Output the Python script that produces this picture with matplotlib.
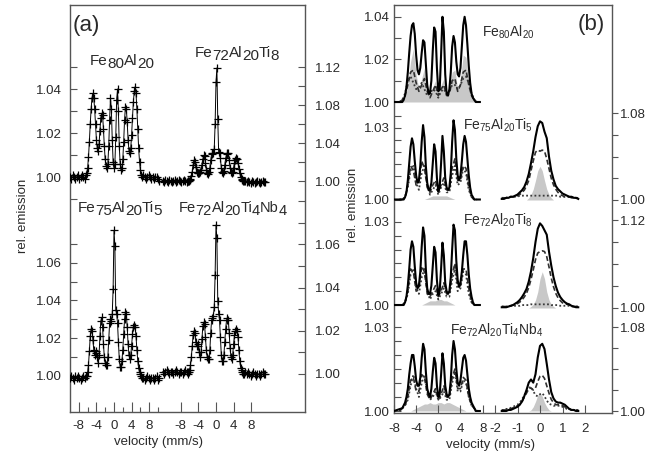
import matplotlib
matplotlib.use("Agg")
import matplotlib.pyplot as plt

# ---------------- data: panel (a), measured spectra (velocity mm/s, rel. emission)
va_core = [-6.2, -6.0, -5.8, -5.6, -5.4, -5.2, -5.0, -4.8, -4.6, -4.4,
           -4.2, -4.0, -3.8, -3.6, -3.4, -3.2, -3.0, -2.8, -2.6, -2.4,
           -2.2, -2.0, -1.8, -1.6, -1.4, -1.2, -1.0, -0.8, -0.6, -0.4,
           -0.2, 0.0, 0.2, 0.4, 0.6, 0.8, 1.0, 1.2, 1.4, 1.6,
           1.8, 2.0, 2.2, 2.4, 2.6, 2.8, 3.0, 3.2, 3.4, 3.6,
           3.8, 4.0, 4.2, 4.4, 4.6, 4.8, 5.0, 5.2, 5.4, 5.6,
           5.8, 6.0, 6.2, 6.4]
va_left_l = [-10.0, -9.7, -9.4, -9.1, -8.8, -8.5, -8.2, -7.9, -7.6, -7.3, -7.0, -6.7, -6.4]
va_left_r = [6.7, 7.0, 7.3, 7.6, 7.9, 8.2, 8.5, 8.8, 9.1, 9.4, 9.7, 10.0, 10.3]
va_right_l = [-12.1, -11.8, -11.5, -11.2, -10.9, -10.6, -10.3, -10.0, -9.7, -9.4, -9.1,
              -8.8, -8.5, -8.2, -7.9, -7.6, -7.3, -7.0, -6.7, -6.4, -6.3]
va_right_r = [6.7, 7.0, 7.3, 7.6, 7.9, 8.2, 8.5, 8.8, 9.1, 9.4, 9.7, 10.0, 10.3, 10.6, 10.9, 11.2]

fe80_meas = [1.002, 1.004, 1.009, 1.016, 1.024, 1.031, 1.036, 1.038, 1.036, 1.031,
             1.024, 1.017, 1.013, 1.012, 1.015, 1.021, 1.027, 1.029, 1.028, 1.022,
             1.014, 1.008, 1.005, 1.004, 1.006, 1.014, 1.026, 1.036, 1.031, 1.017,
             1.007, 1.004, 1.006, 1.018, 1.035, 1.040, 1.030, 1.014, 1.006, 1.003,
             1.004, 1.008, 1.016, 1.026, 1.032, 1.031, 1.025, 1.017, 1.012, 1.011,
             1.013, 1.019, 1.027, 1.034, 1.039, 1.041, 1.038, 1.031, 1.022, 1.013,
             1.007, 1.003, 1.001, 1.000]
fe80_base_l = [1.000, 0.999, 1.001, 1.000, 0.999, 1.000, 1.001, 0.999, 1.000, 1.001, 1.000, 0.999, 1.001]
fe80_base_r = [1.001, 1.000, 0.999, 1.000, 1.001, 1.000, 0.999, 1.000, 0.999, 1.000, 1.000, 0.999, 0.998]

ti8_meas = [1.000, 1.001, 1.002, 1.005, 1.010, 1.017, 1.022, 1.020, 1.015, 1.010,
            1.008, 1.008, 1.008, 1.009, 1.012, 1.017, 1.023, 1.027, 1.026, 1.019,
            1.012, 1.008, 1.007, 1.009, 1.014, 1.022, 1.028, 1.029, 1.030, 1.034,
            1.060, 1.104, 1.119, 1.065, 1.031, 1.029, 1.024, 1.014, 1.009, 1.008,
            1.011, 1.017, 1.024, 1.028, 1.030, 1.029, 1.022, 1.014, 1.009, 1.008,
            1.010, 1.014, 1.019, 1.022, 1.024, 1.023, 1.019, 1.013, 1.008, 1.004,
            1.002, 1.001, 1.000, 1.000]
ti8_base_l = [1.000, 0.999, 1.001, 1.000, 0.999, 1.001, 1.000, 0.999, 1.000, 1.001, 0.999,
              1.000, 1.001, 1.000, 0.999, 1.000, 1.001, 1.000, 0.999, 1.000, 1.000]
ti8_base_r = [1.000, 0.999, 1.000, 0.999, 0.998, 1.000, 0.999, 0.998, 0.999, 1.000, 0.999,
              0.998, 0.999, 1.000, 0.999, 0.999]

ti5_meas = [1.000, 1.002, 1.006, 1.013, 1.021, 1.025, 1.024, 1.019, 1.014, 1.011,
            1.012, 1.013, 1.010, 1.007, 1.011, 1.021, 1.029, 1.031, 1.026, 1.017,
            1.010, 1.007, 1.006, 1.006, 1.010, 1.019, 1.028, 1.030, 1.029, 1.033,
            1.046, 1.077, 1.069, 1.035, 1.033, 1.028, 1.018, 1.009, 1.005, 1.005,
            1.008, 1.014, 1.022, 1.030, 1.034, 1.033, 1.026, 1.017, 1.011, 1.009,
            1.011, 1.016, 1.022, 1.026, 1.027, 1.026, 1.021, 1.014, 1.008, 1.004,
            1.002, 1.001, 1.000, 0.999]
ti5_base_l = [0.999, 1.000, 0.999, 0.998, 1.000, 0.999, 1.000, 0.999, 0.998, 0.999, 1.000, 0.999, 1.000]
ti5_base_r = [0.999, 0.998, 0.999, 1.000, 0.999, 0.998, 0.999, 0.999, 0.998, 0.999, 1.000, 0.998, 0.999]

nb4_meas = [1.001, 1.002, 1.004, 1.008, 1.013, 1.018, 1.020, 1.019, 1.015, 1.013,
            1.014, 1.013, 1.010, 1.008, 1.010, 1.016, 1.022, 1.024, 1.023, 1.017,
            1.011, 1.008, 1.007, 1.007, 1.011, 1.019, 1.025, 1.026, 1.027, 1.031,
            1.046, 1.069, 1.063, 1.034, 1.028, 1.025, 1.017, 1.009, 1.006, 1.006,
            1.009, 1.015, 1.021, 1.025, 1.026, 1.025, 1.019, 1.012, 1.008, 1.007,
            1.009, 1.014, 1.018, 1.020, 1.021, 1.020, 1.017, 1.011, 1.006, 1.003,
            1.002, 1.001, 1.000, 1.000]
nb4_base_l = [1.001, 1.000, 1.001, 1.002, 1.001, 1.000, 1.001, 1.001, 1.000, 1.001, 1.002,
              1.001, 1.000, 1.001, 1.001, 1.000, 1.001, 1.002, 1.001, 1.000, 1.001]
nb4_base_r = [1.001, 1.000, 1.001, 1.000, 0.999, 1.000, 1.001, 1.000, 0.999, 1.000, 1.000,
              0.999, 1.000, 1.001, 1.000, 1.000]

# ---------------- data: panel (b), fitted components
vb_fine = [-8.0, -6.5, -6.25, -6.0, -5.75, -5.5, -5.25, -5.0, -4.75, -4.5,
           -4.25, -4.0, -3.75, -3.5, -3.25, -3.0, -2.75, -2.5, -2.25, -2.0,
           -1.75, -1.5, -1.25, -1.0, -0.75, -0.5, -0.25, 0.0, 0.25, 0.5,
           0.75, 1.0, 1.25, 1.5, 1.75, 2.0, 2.25, 2.5, 2.75, 3.0,
           3.25, 3.5, 3.75, 4.0, 4.25, 4.5, 4.75, 5.0, 5.25, 5.5,
           5.75, 6.0, 6.25, 6.5, 6.75, 7.0, 7.5]
vb_coarse = [-7.0, -6.5, -6.0, -5.5, -5.0, -4.5, -4.0, -3.5, -3.0, -2.5,
             -2.0, -1.5, -1.0, -0.5, 0.0, 0.5, 1.0, 1.5, 2.0, 2.5,
             3.0, 3.5, 4.0, 4.5, 5.0, 5.5, 6.0, 6.5, 7.0]
vr = [-1.7, -1.6, -1.5, -1.4, -1.3, -1.2, -1.1, -1.0, -0.9, -0.8,
      -0.7, -0.6, -0.5, -0.4, -0.3, -0.2, -0.1, 0.0, 0.1, 0.2,
      0.3, 0.4, 0.5, 0.6, 0.7, 0.8, 0.9, 1.0, 1.1, 1.2,
      1.3, 1.4, 1.5, 1.6, 1.7]

b1_total = [1.000, 1.000, 1.001, 1.003, 1.007, 1.014, 1.023, 1.031, 1.036, 1.037,
            1.032, 1.022, 1.015, 1.013, 1.016, 1.023, 1.029, 1.028, 1.018, 1.008,
            1.004, 1.004, 1.010, 1.024, 1.035, 1.033, 1.016, 1.005, 1.006, 1.022,
            1.040, 1.033, 1.013, 1.004, 1.003, 1.006, 1.014, 1.026, 1.031, 1.028,
            1.019, 1.013, 1.012, 1.016, 1.026, 1.036, 1.040, 1.036, 1.027, 1.017,
            1.009, 1.004, 1.002, 1.001, 1.000, 1.000, 1.000]
b1_gray = [1.000, 1.000, 1.002, 1.008, 1.019, 1.025, 1.013, 1.006, 1.011, 1.016,
           1.007, 1.003, 1.007, 1.010, 1.004, 1.008, 1.011, 1.004, 1.006, 1.014,
           1.015, 1.006, 1.011, 1.022, 1.021, 1.009, 1.003, 1.000, 1.000]
b1_dash = [1.000, 1.001, 1.003, 1.008, 1.014, 1.015, 1.009, 1.005, 1.008, 1.011,
           1.005, 1.002, 1.005, 1.008, 1.003, 1.006, 1.008, 1.003, 1.004, 1.010,
           1.011, 1.005, 1.008, 1.014, 1.015, 1.008, 1.003, 1.001, 1.000]
b1_dot = [1.000, 1.001, 1.004, 1.010, 1.012, 1.009, 1.006, 1.007, 1.009, 1.006,
          1.003, 1.004, 1.006, 1.005, 1.002, 1.005, 1.006, 1.004, 1.005, 1.008,
          1.008, 1.006, 1.008, 1.011, 1.012, 1.009, 1.004, 1.001, 1.000]

b2_total = [1.000, 1.000, 1.000, 1.001, 1.003, 1.008, 1.015, 1.022, 1.0255, 1.023,
            1.016, 1.010, 1.007, 1.008, 1.014, 1.024, 1.031, 1.026, 1.014, 1.007,
            1.004, 1.004, 1.007, 1.015, 1.023, 1.020, 1.009, 1.0035, 1.005, 1.015,
            1.0265, 1.020, 1.009, 1.005, 1.004, 1.005, 1.011, 1.024, 1.033, 1.029,
            1.017, 1.010, 1.008, 1.010, 1.016, 1.023, 1.0265, 1.024, 1.017, 1.010,
            1.005, 1.002, 1.001, 1.000, 1.000, 1.000, 1.000]
b2_gray = [1.000, 1.000, 1.000, 1.000, 1.000, 1.000, 1.000, 1.000, 1.000, 1.000,
           1.0005, 1.001, 1.0015, 1.0015, 1.0015, 1.0015, 1.0015, 1.0015, 1.001, 1.0005,
           1.000, 1.000, 1.000, 1.000, 1.000, 1.000, 1.000, 1.000, 1.000]
b2_dash = [1.000, 1.000, 1.001, 1.006, 1.014, 1.012, 1.006, 1.007, 1.016, 1.013,
           1.005, 1.003, 1.006, 1.008, 1.003, 1.006, 1.009, 1.004, 1.004, 1.013,
           1.017, 1.008, 1.008, 1.014, 1.013, 1.005, 1.001, 1.000, 1.000]
b2_dot = [1.000, 1.000, 1.001, 1.005, 1.012, 1.014, 1.007, 1.004, 1.011, 1.014,
          1.006, 1.002, 1.004, 1.006, 1.002, 1.005, 1.007, 1.003, 1.003, 1.010,
          1.014, 1.006, 1.007, 1.013, 1.011, 1.004, 1.001, 1.000, 1.000]

b3_total = [1.000, 1.000, 1.000, 1.001, 1.003, 1.007, 1.013, 1.020, 1.023, 1.021,
            1.014, 1.008, 1.006, 1.007, 1.012, 1.021, 1.028, 1.025, 1.013, 1.006,
            1.004, 1.004, 1.007, 1.014, 1.021, 1.019, 1.009, 1.0035, 1.005, 1.013,
            1.0225, 1.018, 1.008, 1.005, 1.004, 1.005, 1.010, 1.020, 1.029, 1.027,
            1.016, 1.009, 1.0065, 1.008, 1.012, 1.018, 1.023, 1.023, 1.018, 1.011,
            1.006, 1.003, 1.001, 1.000, 1.000, 1.000, 1.000]
b3_gray = [1.000, 1.000, 1.000, 1.000, 1.000, 1.000, 1.000, 1.000, 1.000, 1.0005,
           1.001, 1.0015, 1.0015, 1.0015, 1.002, 1.002, 1.0015, 1.0015, 1.001, 1.0005,
           1.000, 1.000, 1.000, 1.000, 1.000, 1.000, 1.000, 1.000, 1.000]
b3_dash = [1.000, 1.000, 1.001, 1.005, 1.013, 1.012, 1.005, 1.006, 1.014, 1.012,
           1.004, 1.003, 1.005, 1.007, 1.003, 1.005, 1.008, 1.004, 1.004, 1.011,
           1.015, 1.007, 1.007, 1.013, 1.013, 1.006, 1.001, 1.000, 1.000]
b3_dot = [1.000, 1.000, 1.001, 1.004, 1.011, 1.013, 1.006, 1.004, 1.010, 1.013,
          1.005, 1.002, 1.004, 1.005, 1.002, 1.004, 1.006, 1.003, 1.003, 1.009,
          1.013, 1.005, 1.006, 1.012, 1.011, 1.004, 1.001, 1.000, 1.000]

b4_total = [1.000, 1.001, 1.002, 1.003, 1.005, 1.008, 1.013, 1.017, 1.020, 1.020,
            1.016, 1.011, 1.009, 1.009, 1.012, 1.019, 1.024, 1.022, 1.014, 1.008,
            1.006, 1.005, 1.008, 1.014, 1.019, 1.017, 1.009, 1.005, 1.006, 1.013,
            1.0206, 1.017, 1.009, 1.006, 1.005, 1.006, 1.011, 1.020, 1.025, 1.022,
            1.015, 1.010, 1.009, 1.011, 1.015, 1.019, 1.020, 1.018, 1.013, 1.008,
            1.005, 1.003, 1.002, 1.001, 1.000, 1.000, 1.000]
b4_gray = [1.000, 1.000, 1.000, 1.000, 1.000, 1.0005, 1.001, 1.0015, 1.002, 1.0025,
           1.0025, 1.003, 1.0025, 1.0025, 1.003, 1.003, 1.0025, 1.003, 1.003, 1.0025,
           1.002, 1.0015, 1.001, 1.0005, 1.000, 1.000, 1.000, 1.000, 1.000]
b4_dash = [1.000, 1.001, 1.002, 1.005, 1.011, 1.012, 1.007, 1.007, 1.013, 1.012,
           1.006, 1.004, 1.006, 1.008, 1.004, 1.006, 1.009, 1.005, 1.005, 1.012,
           1.015, 1.008, 1.008, 1.012, 1.011, 1.005, 1.002, 1.001, 1.000]
b4_dot = [1.000, 1.001, 1.002, 1.004, 1.009, 1.013, 1.008, 1.005, 1.010, 1.013,
          1.007, 1.004, 1.005, 1.007, 1.004, 1.005, 1.007, 1.004, 1.004, 1.010,
          1.014, 1.007, 1.007, 1.011, 1.010, 1.005, 1.002, 1.001, 1.000]

r2_total = [1.001, 1.001, 1.002, 1.002, 1.003, 1.003, 1.004, 1.005, 1.007, 1.009,
            1.012, 1.017, 1.024, 1.034, 1.045, 1.058, 1.068, 1.0725, 1.071, 1.063,
            1.057, 1.040, 1.027, 1.019, 1.013, 1.010, 1.008, 1.006, 1.005, 1.004,
            1.003, 1.003, 1.002, 1.002, 1.001]
r2_dash = [1.002, 1.002, 1.002, 1.002, 1.003, 1.003, 1.003, 1.004, 1.005, 1.007,
           1.009, 1.013, 1.018, 1.027, 1.036, 1.044, 1.046, 1.045, 1.046, 1.045,
           1.038, 1.029, 1.020, 1.014, 1.010, 1.007, 1.005, 1.004, 1.003, 1.003,
           1.003, 1.002, 1.002, 1.002, 1.002]
r2_dot = [1.002, 1.002, 1.002, 1.003, 1.003, 1.003, 1.003, 1.003, 1.004, 1.004,
          1.004, 1.004, 1.004, 1.004, 1.004, 1.004, 1.004, 1.004, 1.004, 1.004,
          1.004, 1.004, 1.004, 1.004, 1.004, 1.004, 1.003, 1.003, 1.003, 1.003,
          1.003, 1.003, 1.002, 1.002, 1.002]
r2_gray = [1.000, 1.000, 1.000, 1.000, 1.000, 1.000, 1.000, 1.000, 1.000, 1.000,
           1.000, 1.000, 1.002, 1.005, 1.010, 1.018, 1.027, 1.031, 1.027, 1.018,
           1.010, 1.005, 1.002, 1.000, 1.000, 1.000, 1.000, 1.000, 1.000, 1.000,
           1.000, 1.000, 1.000, 1.000, 1.000]

r3_total = [1.001, 1.001, 1.001, 1.002, 1.003, 1.004, 1.006, 1.008, 1.011, 1.015,
            1.020, 1.026, 1.036, 1.050, 1.068, 1.090, 1.108, 1.1155, 1.112, 1.106,
            1.100, 1.077, 1.058, 1.042, 1.030, 1.021, 1.015, 1.011, 1.008, 1.006,
            1.005, 1.003, 1.002, 1.001, 1.001]
r3_dash = [1.002, 1.002, 1.002, 1.003, 1.003, 1.004, 1.005, 1.006, 1.008, 1.011,
           1.015, 1.020, 1.028, 1.039, 1.052, 1.066, 1.075, 1.077, 1.078, 1.077,
           1.070, 1.056, 1.041, 1.029, 1.020, 1.014, 1.010, 1.007, 1.006, 1.005,
           1.004, 1.003, 1.002, 1.002, 1.002]
r3_dot = [1.002, 1.002, 1.002, 1.002, 1.003, 1.003, 1.003, 1.003, 1.003, 1.004,
          1.004, 1.004, 1.004, 1.005, 1.005, 1.005, 1.005, 1.005, 1.005, 1.005,
          1.005, 1.005, 1.004, 1.004, 1.004, 1.004, 1.003, 1.003, 1.003, 1.003,
          1.003, 1.002, 1.002, 1.002, 1.002]
r3_gray = [1.000, 1.000, 1.000, 1.000, 1.000, 1.000, 1.000, 1.000, 1.000, 1.000,
           1.000, 1.000, 1.000, 1.002, 1.005, 1.011, 1.022, 1.040, 1.0495, 1.040,
           1.022, 1.011, 1.005, 1.002, 1.000, 1.000, 1.000, 1.000, 1.000, 1.000,
           1.000, 1.000, 1.000, 1.000, 1.000]

r4_total = [1.000, 1.000, 1.000, 1.001, 1.001, 1.002, 1.003, 1.004, 1.006, 1.009,
            1.014, 1.020, 1.027, 1.030, 1.027, 1.035, 1.051, 1.062, 1.064, 1.059,
            1.045, 1.030, 1.018, 1.012, 1.009, 1.008, 1.008, 1.007, 1.006, 1.004,
            1.002, 1.001, 1.001, 1.000, 1.000]
r4_dash = [1.001, 1.001, 1.001, 1.002, 1.002, 1.003, 1.004, 1.005, 1.006, 1.009,
           1.013, 1.017, 1.021, 1.022, 1.020, 1.022, 1.028, 1.033, 1.034, 1.031,
           1.024, 1.017, 1.011, 1.008, 1.006, 1.006, 1.006, 1.005, 1.004, 1.003,
           1.002, 1.001, 1.001, 1.001, 1.001]
r4_dot = [1.001, 1.001, 1.002, 1.002, 1.003, 1.004, 1.005, 1.006, 1.008, 1.011,
          1.015, 1.019, 1.022, 1.023, 1.019, 1.015, 1.014, 1.016, 1.017, 1.014,
          1.010, 1.007, 1.006, 1.005, 1.005, 1.005, 1.005, 1.004, 1.003, 1.002,
          1.002, 1.001, 1.001, 1.001, 1.001]
r4_gray = [1.000, 1.000, 1.000, 1.000, 1.000, 1.000, 1.000, 1.000, 1.000, 1.000,
           1.000, 1.000, 1.000, 1.001, 1.004, 1.009, 1.015, 1.017, 1.014, 1.008,
           1.004, 1.001, 1.000, 1.000, 1.000, 1.000, 1.000, 1.000, 1.000, 1.000,
           1.000, 1.000, 1.000, 1.000, 1.000]

# ---------------- figure
W, H = 665, 455
plt.rcParams["font.family"] = ["Liberation Sans", "DejaVu Sans"]
plt.rcParams["mathtext.default"] = "regular"
fig = plt.figure(figsize=(W / 100, H / 100), dpi=100)
SPINE = "#555555"
TXT = "#2a2a2a"

PA = (70, 5, 305, 412)   # panel boxes in pixels: left, top, right, bottom
PB = (394, 5, 612, 413)


def rect(l, t, r, b):
    return [l / W, 1 - b / H, (r - l) / W, (b - t) / H]


def frame(p):
    ax = fig.add_axes(rect(*p))
    ax.set_xticks([])
    ax.set_yticks([])
    for s in ax.spines.values():
        s.set_color(SPINE)
        s.set_linewidth(1.0)
    return ax


def layer(p, x0, xs, y0, ys):
    # transparent axes over a panel; x0/y0 = pixel of v=0 / y=1, xs/ys = px per unit
    l, t, r, b = p
    ax = fig.add_axes(rect(*p), facecolor="none")
    ax.set_xlim((l - x0) / xs, (r - x0) / xs)
    ax.set_ylim(1 + (y0 - b) / ys, 1 + (y0 - t) / ys)
    for s in ax.spines.values():
        s.set_visible(False)
    ax.set_xticks([])
    ax.set_yticks([])
    return ax


def yticks(ax, side, ticks, shown, direction, length, pad):
    labels = ["%.2f" % t if any(abs(t - s) < 1e-6 for s in shown) else "" for t in ticks]
    ax.set_yticks(ticks)
    ax.set_yticklabels(labels)
    ax.tick_params(axis="y", direction=direction, length=length, width=0.8,
                   color=SPINE, labelsize=9.5, labelcolor=TXT, pad=pad,
                   left=(side == "left"), labelleft=(side == "left"),
                   right=(side == "right"), labelright=(side == "right"))


def xticks(ax, ticks, labels, length, pad, minor=None):
    ax.xaxis.set_ticks_position("bottom")
    ax.set_xticks(ticks)
    ax.set_xticklabels(labels)
    if minor:
        ax.set_xticks(minor, minor=True)
    ax.tick_params(axis="x", which="both", direction="in", width=0.8,
                   color=SPINE, labelsize=9.5, labelcolor=TXT, pad=pad)
    ax.tick_params(axis="x", which="major", length=length)
    ax.tick_params(axis="x", which="minor", length=length / 2)


def measured(ax, v, y):
    ax.plot(v, y, color="black", lw=0.7, marker="+", ms=6, mew=0.9)


def fitted(ax, v, total, vc, gray, dash, dot):
    ax.fill_between(vc, 1.0, gray, color="#c8c8c8", lw=0)
    ax.plot(vc, dot, color="#3a3a3a", lw=1.3, ls=(0, (1, 1.3)))
    ax.plot(vc, dash, color="#303030", lw=1.2, ls=(0, (3, 1.6)))
    ax.plot(v, total, color="black", lw=1.5)


def formula(x, y, parts, size, drop):
    # chemical formula with full-size lowered subscripts, x/y in pixels
    r = fig.canvas.get_renderer()
    for s, sub in parts:
        t = fig.text(x / W, 1 - (y + drop * sub) / H, s, fontsize=size,
                     color=TXT, va="baseline")
        x += t.get_window_extent(r).width * (1.0 if sub else 0.96)


# ---------------- panel (a)
frame(PA)
a_tl = layer(PA, 114, 4.4, 177, 2200)
a_tr = layer(PA, 216, 4.4, 181, 950)
a_bl = layer(PA, 114, 4.4, 376, 1890)
a_br = layer(PA, 216, 4.4, 374, 2160)

measured(a_tl, va_left_l + va_core + va_left_r, fe80_base_l + fe80_meas + fe80_base_r)
measured(a_tr, va_right_l + va_core + va_right_r, ti8_base_l + ti8_meas + ti8_base_r)
measured(a_bl, va_left_l + va_core + va_left_r, ti5_base_l + ti5_meas + ti5_base_r)
measured(a_br, va_right_l + va_core + va_right_r, nb4_base_l + nb4_meas + nb4_base_r)

yticks(a_tl, "left", [0.99, 1.00, 1.01, 1.02, 1.03, 1.04, 1.05], [1.00, 1.02, 1.04], "in", 5, 6)
yticks(a_bl, "left", [1.00, 1.01, 1.02, 1.03, 1.04, 1.05, 1.06, 1.07], [1.00, 1.02, 1.04, 1.06], "in", 5, 6)
yticks(a_tr, "right", [1.00, 1.02, 1.04, 1.06, 1.08, 1.10, 1.12], [1.00, 1.04, 1.08, 1.12], "in", 5, 7)
yticks(a_br, "right", [1.00, 1.01, 1.02, 1.03, 1.04, 1.05, 1.06, 1.07, 1.08], [1.00, 1.02, 1.04, 1.06], "in", 5, 7)
xticks(a_bl, [-8, -4, 0, 4, 8], ["-8", "-4", "0", "4", "8"], 7, 5.5, minor=[-6, -2, 2, 6, 10])
xticks(a_br, [-8, -4, 0, 4, 8], ["-8", "-4", "0", "4", "8"], 7, 5.5)

fig.text(73 / W, 1 - 31 / H, "(a)", fontsize=16, color=TXT, va="baseline")
formula(90, 65, [("Fe", 0), ("80", 1), ("Al", 0), ("20", 1)], 11, 3)
formula(195, 57, [("Fe", 0), ("72", 1), ("Al", 0), ("20", 1), ("Ti", 0), ("8", 1)], 11, 3)
formula(78, 212, [("Fe", 0), ("75", 1), ("Al", 0), ("20", 1), ("Ti", 0), ("5", 1)], 11, 3)
formula(179, 212, [("Fe", 0), ("72", 1), ("Al", 0), ("20", 1), ("Ti", 0), ("4", 1),
                   ("Nb", 0), ("4", 1)], 10.5, 3)
fig.text(159 / W, 1 - 442 / H, "velocity (mm/s)", fontsize=9.5, color=TXT, ha="center", va="center")
fig.text(23 / W, 1 - 216 / H, "rel. emission", fontsize=9.5, color=TXT, ha="center",
         va="center", rotation=90)

# ---------------- panel (b)
frame(PB)
b1 = layer(PB, 438.3, 5.54, 102, 2130)
b2 = layer(PB, 438.3, 5.54, 199.5, 2400)
b3 = layer(PB, 438.3, 5.54, 305, 2770)
b4 = layer(PB, 438.3, 5.54, 411, 2800)
c2 = layer(PB, 540, 22.5, 200, 1085)
c3 = layer(PB, 540, 22.5, 308, 733)
c4 = layer(PB, 540, 22.5, 411, 1050)

fitted(b1, vb_fine, b1_total, vb_coarse, b1_gray, b1_dash, b1_dot)
fitted(b2, vb_fine, b2_total, vb_coarse, b2_gray, b2_dash, b2_dot)
fitted(b3, vb_fine, b3_total, vb_coarse, b3_gray, b3_dash, b3_dot)
fitted(b4, vb_fine, b4_total, vb_coarse, b4_gray, b4_dash, b4_dot)
fitted(c2, vr, r2_total, vr, r2_gray, r2_dash, r2_dot)
fitted(c3, vr, r3_total, vr, r3_gray, r3_dash, r3_dot)
fitted(c4, vr, r4_total, vr, r4_gray, r4_dash, r4_dot)

yticks(b1, "left", [1.00, 1.01, 1.02, 1.03, 1.04], [1.00, 1.02, 1.04], "in", 5, 3)
yticks(b2, "left", [1.00, 1.005, 1.01, 1.015, 1.02, 1.025, 1.03, 1.035], [1.00, 1.03], "in", 5, 3)
yticks(b3, "left", [1.00, 1.005, 1.01, 1.015, 1.02, 1.025, 1.03], [1.00, 1.03], "in", 5, 3)
yticks(b4, "left", [1.00, 1.005, 1.01, 1.015, 1.02, 1.025, 1.03], [1.00, 1.03], "in", 5, 3)
yticks(c2, "right", [1.00, 1.02, 1.04, 1.06, 1.08], [1.00, 1.08], "out", 4, 1.5)
yticks(c3, "right", [1.00, 1.03, 1.06, 1.09, 1.12], [1.00, 1.12], "out", 4, 1.5)
yticks(c4, "right", [1.00, 1.02, 1.04, 1.06, 1.08], [1.00, 1.08], "out", 4, 1.5)
xticks(b4, [-8, -4, 0, 4, 8], ["-8", "-4", "0", "4", "8"], 6, 7)
xticks(c4, [-2, -1, 0, 1, 2], ["-2", "-1", "0", "1", "2"], 6, 7)

fig.text(578 / W, 1 - 30 / H, "(b)", fontsize=16, color=TXT, va="baseline")
fig.text(482 / W, 1 - 37 / H, r"$Fe_{80}Al_{20}$", fontsize=10, color=TXT, va="baseline")
fig.text(463 / W, 1 - 130 / H, r"$Fe_{75}Al_{20}Ti_{5}$", fontsize=10, color=TXT, va="baseline")
fig.text(463 / W, 1 - 225 / H, r"$Fe_{72}Al_{20}Ti_{8}$", fontsize=10, color=TXT, va="baseline")
fig.text(450 / W, 1 - 335 / H, r"$Fe_{72}Al_{20}Ti_{4}Nb_{4}$", fontsize=10, color=TXT, va="baseline")
fig.text(490 / W, 1 - 445 / H, "velocity (mm/s)", fontsize=9.5, color=TXT, ha="center", va="center")
fig.text(353 / W, 1 - 205 / H, "rel. emission", fontsize=9.5, color=TXT, ha="center",
         va="center", rotation=90)

fig.savefig("out.png", dpi=100)
